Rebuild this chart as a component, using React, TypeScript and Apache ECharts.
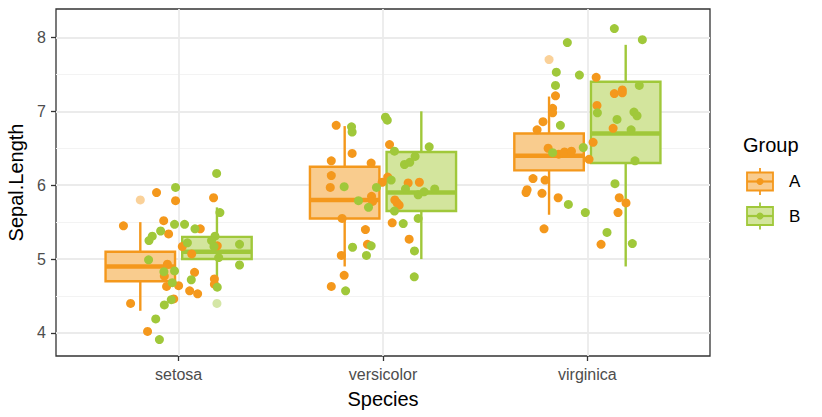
import React, { useEffect, useRef } from "react";
import * as echarts from "echarts";

const species = ["setosa", "versicolor", "virginica"];
const groups = ["A", "B"];
const yTicks = [4, 5, 6, 7, 8];
const yMinor = [4.5, 5.5, 6.5, 7.5];

// box stats per species: [low whisker, q1, median, q3, high whisker]
const boxA = [
  [4.3, 4.7, 4.9, 5.1, 5.5],
  [4.9, 5.55, 5.8, 6.25, 6.8],
  [5.6, 6.2, 6.4, 6.7, 7.2],
];
const boxB = [
  [4.6, 5.0, 5.1, 5.3, 5.7],
  [5.0, 5.65, 5.9, 6.45, 7.0],
  [4.9, 6.3, 6.7, 7.4, 7.9],
];
const outliersA = [[5.8], [], [7.7]];
const outliersB = [[4.4], [], []];

// jittered points: [horizontal jitter from species centre, value]
const setosaA = [[-0.108,5.90],[-0.015,5.79],[0.171,5.83],[-0.270,5.45],[-0.073,5.52],[-0.049,5.34],[0.106,5.41],[0.018,5.17],[0.189,5.18],[0.064,5.07],[-0.055,4.93],[-0.070,4.77],[0.078,4.82],[-0.059,4.63],[0.000,4.64],[0.054,4.57],[0.093,4.53],[0.175,4.73],[0.175,4.66],[-0.024,4.46],[-0.235,4.40],[-0.152,4.02]];
const setosaB = [[0.186,6.16],[-0.015,5.97],[0.202,5.63],[-0.088,5.38],[-0.129,5.31],[-0.145,5.25],[-0.020,5.47],[0.029,5.47],[0.080,5.41],[0.043,5.22],[0.178,5.31],[0.161,5.25],[0.298,5.20],[0.173,5.17],[-0.147,4.99],[-0.072,4.83],[-0.020,4.84],[-0.031,4.68],[0.062,4.72],[0.189,4.62],[-0.036,4.45],[-0.070,4.38],[-0.112,4.19],[-0.094,3.91],[0.298,4.92],[0.196,5.02]];
const versicolorA = [[-0.229,6.81],[-0.151,6.43],[-0.253,6.33],[-0.058,6.30],[-0.253,6.13],[-0.258,5.97],[-0.004,6.04],[0.023,6.11],[0.123,6.03],[0.178,6.04],[-0.056,5.85],[-0.051,5.78],[0.058,5.80],[0.069,5.76],[0.079,5.73],[-0.200,5.55],[0.045,5.49],[-0.086,5.40],[-0.076,5.20],[0.128,5.27],[-0.204,5.05],[-0.190,4.78],[-0.253,4.63],[0.032,6.55]];
const versicolorB = [[-0.154,6.79],[-0.151,6.72],[0.012,6.92],[0.021,6.88],[-0.190,5.98],[-0.032,5.97],[-0.120,5.79],[-0.071,5.70],[-0.149,5.16],[-0.058,5.18],[-0.081,5.05],[-0.183,4.57],[0.226,6.52],[0.056,6.46],[0.105,6.28],[0.131,6.31],[0.157,6.39],[0.040,6.07],[0.110,5.95],[0.201,5.91],[0.253,5.95],[0.172,5.87],[0.056,5.65],[0.099,5.48],[0.172,5.55],[0.154,5.11],[0.153,4.76]];
const virginicaA = [[0.043,7.46],[-0.156,7.21],[-0.170,7.04],[-0.170,6.98],[-0.217,6.86],[-0.246,6.75],[0.132,7.24],[0.171,7.29],[0.171,7.25],[0.047,7.08],[0.126,6.77],[-0.192,6.50],[-0.140,6.42],[-0.112,6.45],[-0.078,6.46],[0.028,6.58],[0.008,6.35],[-0.266,6.09],[-0.207,6.07],[-0.295,5.94],[-0.300,5.90],[-0.222,5.89],[-0.143,5.83],[0.156,5.83],[0.189,5.76],[0.150,5.63],[-0.212,5.41],[0.067,5.20]];
const virginicaB = [[0.132,8.12],[0.269,7.97],[-0.098,7.93],[-0.152,7.53],[-0.039,7.49],[-0.156,7.35],[0.254,7.35],[-0.132,6.81],[0.049,6.98],[0.228,6.99],[0.243,6.94],[0.145,6.89],[0.214,6.75],[-0.020,6.51],[-0.170,6.44],[0.233,6.33],[0.135,6.02],[-0.093,5.74],[-0.010,5.63],[0.096,5.36],[0.220,5.21]];

const pointsA = [setosaA, versicolorA, virginicaA];
const pointsB = [setosaB, versicolorB, virginicaB];

const ORANGE = "#F4981C";
const ORANGE_FILL = "#F9CC8E";
const GREEN = "#A0C83A";
const GREEN_FILL = "#D3E59D";
const FONT = "Liberation Sans, Arial, sans-serif";

const DODGE = 0.1875;
const HALF_W = 0.17;

function boxSeries(stats: number[][], sign: number, stroke: string, fill: string) {
  const data = stats.map((s, i) => [i + 1 + sign * DODGE, ...s]);
  return {
    type: "custom",
    data,
    encode: { x: 0, y: [1, 2, 3, 4, 5] },
    renderItem: (params: any, api: any) => {
      const x = api.value(0);
      const pLow = api.coord([x, api.value(1)]);
      const pQ1 = api.coord([x, api.value(2)]);
      const pMed = api.coord([x, api.value(3)]);
      const pQ3 = api.coord([x, api.value(4)]);
      const pHigh = api.coord([x, api.value(5)]);
      const left = api.coord([x - HALF_W, api.value(3)])[0];
      const right = api.coord([x + HALF_W, api.value(3)])[0];
      const cx = pMed[0];
      return {
        type: "group",
        children: [
          { type: "line", shape: { x1: cx, y1: pHigh[1], x2: cx, y2: pQ3[1] }, style: { stroke, lineWidth: 2.4 } },
          { type: "line", shape: { x1: cx, y1: pQ1[1], x2: cx, y2: pLow[1] }, style: { stroke, lineWidth: 2.4 } },
          { type: "rect", shape: { x: left, y: pQ3[1], width: right - left, height: pQ1[1] - pQ3[1] }, style: { fill, stroke, lineWidth: 2.4 } },
          { type: "line", shape: { x1: left, y1: pMed[1], x2: right, y2: pMed[1] }, style: { stroke, lineWidth: 4.5 } },
        ],
      };
    },
    z: 2,
  };
}

function outlierSeries(outs: number[][], sign: number, color: string) {
  const data: number[][] = [];
  outs.forEach((vals, i) => vals.forEach((v) => data.push([i + 1 + sign * DODGE, v])));
  return {
    type: "scatter",
    data,
    symbol: "circle",
    symbolSize: 9,
    itemStyle: { color, opacity: 0.45 },
    z: 3,
  };
}

function pointSeries(pts: number[][][], color: string, name: string) {
  const data: number[][] = [];
  pts.forEach((arr, i) => arr.forEach(([dx, v]) => data.push([i + 1 + dx, v])));
  return {
    type: "scatter",
    name,
    data,
    symbol: "circle",
    symbolSize: 9,
    itemStyle: { color, opacity: 1 },
    z: 4,
  };
}

function legendKey(y: number, stroke: string, fill: string, label: string) {
  const x0 = 747;
  const w = 26;
  const h = 18;
  const cx = x0 + w / 2;
  const cy = y;
  return [
    { type: "line", shape: { x1: cx, y1: cy - h / 2 - 4.5, x2: cx, y2: cy - h / 2 }, style: { stroke, lineWidth: 1.8 } },
    { type: "line", shape: { x1: cx, y1: cy + h / 2, x2: cx, y2: cy + h / 2 + 4.5 }, style: { stroke, lineWidth: 1.8 } },
    { type: "rect", shape: { x: x0, y: cy - h / 2, width: w, height: h }, style: { fill, stroke, lineWidth: 1.8 } },
    { type: "line", shape: { x1: x0, y1: cy, x2: x0 + w, y2: cy }, style: { stroke, lineWidth: 2.2 } },
    { type: "circle", shape: { cx, cy, r: 3.5 }, style: { fill: stroke } },
    { type: "text", x: 789, y: cy, style: { text: label, fontSize: 17, fontFamily: FONT, fill: "#000", verticalAlign: "middle", align: "left" } },
  ];
}

export default function App() {
  const ref = useRef<HTMLDivElement>(null);
  useEffect(() => {
    if (!ref.current) return;
    const chart = echarts.init(ref.current, undefined, { renderer: "svg" });
    const option: any = {
      animation: false,
      backgroundColor: "#fff",
      grid: {
        left: 56,
        top: 9,
        right: 112,
        bottom: 61,
        show: true,
        backgroundColor: "#fff",
        borderColor: "#333",
        borderWidth: 1.3,
        outerBoundsMode: "none",
        containLabel: false,
      },
      xAxis: {
        type: "value",
        min: 0.4,
        max: 3.6,
        axisLine: { show: false },
        axisTick: { show: true, customValues: [1, 2, 3], length: 5, lineStyle: { color: "#333", width: 1.3 } },
        axisLabel: {
          customValues: [1, 2, 3],
          formatter: (v: number) => species[Math.round(v) - 1] ?? "",
          color: "#4D4D4D",
          fontSize: 16,
          fontFamily: FONT,
          margin: 10,
        },
        splitLine: { show: true, lineStyle: { color: "#EBEBEB", width: 1.8 } },
        name: "Species",
        nameLocation: "middle",
        nameGap: 33,
        nameTextStyle: { color: "#000", fontSize: 20, fontFamily: FONT },
      },
      yAxis: [
        {
          type: "value",
          min: 3.688,
          max: 8.385,
          position: "left",
          axisLine: { show: false },
          axisTick: { show: true, customValues: yTicks, length: 5, lineStyle: { color: "#333", width: 1.3 } },
          axisLabel: { customValues: yTicks, color: "#4D4D4D", fontSize: 16, fontFamily: FONT, margin: 10 },
          splitLine: { show: true, lineStyle: { color: "#EBEBEB", width: 1.8 } },
          name: "Sepal.Length",
          nameLocation: "middle",
          nameGap: 28,
          nameTextStyle: { color: "#000", fontSize: 20, fontFamily: FONT },
          z: 1,
        },
        {
          type: "value",
          min: 3.688,
          max: 8.385,
          position: "left",
          axisLine: { show: false },
          axisTick: { show: false, customValues: yMinor },
          axisLabel: { show: false, customValues: yMinor },
          splitLine: { show: true, lineStyle: { color: "#F3F3F3", width: 1 } },
          z: 0,
        },
      ],
      series: [
        boxSeries(boxA, -1, ORANGE, ORANGE_FILL),
        boxSeries(boxB, 1, GREEN, GREEN_FILL),
        outlierSeries(outliersA, -1, ORANGE),
        outlierSeries(outliersB, 1, GREEN),
        pointSeries(pointsA, ORANGE, groups[0]),
        pointSeries(pointsB, GREEN, groups[1]),
      ],
      graphic: [
        { type: "text", x: 743, y: 145, style: { text: "Group", fontSize: 20, fontFamily: FONT, fill: "#000", verticalAlign: "middle", align: "left" } },
        ...legendKey(181.5, ORANGE, ORANGE_FILL, groups[0]),
        ...legendKey(216, GREEN, GREEN_FILL, groups[1]),
      ],
    };
    chart.setOption(option);
    return () => chart.dispose();
  }, []);
  return (
    <div
      ref={ref}
      style={{ position: "fixed", left: 0, top: 0, width: 822, height: 417, background: "#fff" }}
    />
  );
}
